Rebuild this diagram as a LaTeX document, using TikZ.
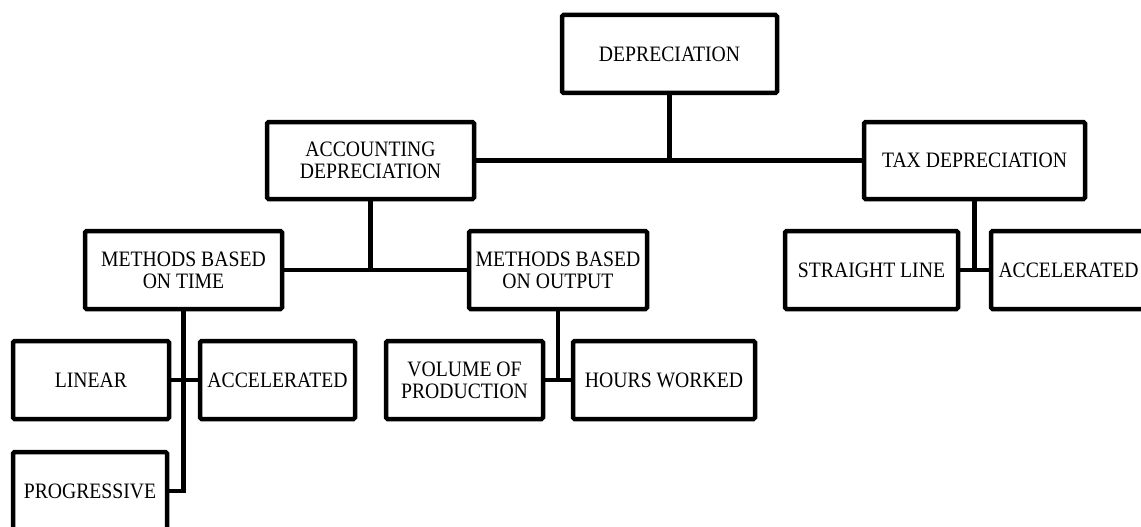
\documentclass[tikz,border=0pt]{standalone}
\usepackage{fontspec}
\setmainfont[FakeStretch=0.895]{Liberation Serif}
\begin{document}
\begin{tikzpicture}[x=1pt,y=-1pt,
  box/.style={draw, line width=4.5pt, rounded corners=1.5pt, minimum height=78pt,
    align=center, inner sep=0pt, font=\fontsize{22}{22}\selectfont},
  conn/.style={line width=4.5pt}]
\useasboundingbox (0,0) rectangle (1141,527);
\node[box, minimum width=215pt] (dep) at (669.5,54) {DEPRECIATION};
\node[box, minimum width=207pt, minimum height=77pt] (acc) at (370.5,160.5) {ACCOUNTING\\DEPRECIATION};
\node[box, minimum width=221pt, minimum height=77pt] (tax) at (974.5,160.5) {TAX DEPRECIATION};
\node[box, minimum width=197pt] (time) at (183.5,270) {METHODS BASED\\ON TIME};
\node[box, minimum width=178pt] (out) at (558,270) {METHODS BASED\\ON OUTPUT};
\node[box, minimum width=173pt] (str) at (871.5,270) {STRAIGHT LINE};
\node[box, minimum width=155pt] (accR) at (1068.5,270) {ACCELERATED};
\node[box, minimum width=156pt] (lin) at (91,380) {LINEAR};
\node[box, minimum width=155pt] (accL) at (277.5,380) {ACCELERATED};
\node[box, minimum width=154pt] (prog) at (90,491) {PROGRESSIVE};
\node[box, minimum width=157pt] (vol) at (464.5,380) {VOLUME OF\\PRODUCTION};
\node[box, minimum width=182pt] (hrs) at (664,380) {HOURS WORKED};
% connectors
\draw[conn] (acc.east) -- (tax.west);
\draw[conn] (dep.south) -- (dep.south |- acc.east);
\draw[conn] (time.east) -- (out.west);
\draw[conn] (acc.south) -- (acc.south |- time.east);
\draw[conn] (str.east) -- (accR.west);
\draw[conn] (tax.south) -- (tax.south |- str.east);
\draw[conn] (lin.east) -- (accL.west);
\draw[conn] (time.south) -- (time.south |- prog.east) -- (prog.east);
\draw[conn] (vol.east) -- (hrs.west);
\draw[conn] (out.south) -- (out.south |- vol.east);
\end{tikzpicture}
\end{document}
